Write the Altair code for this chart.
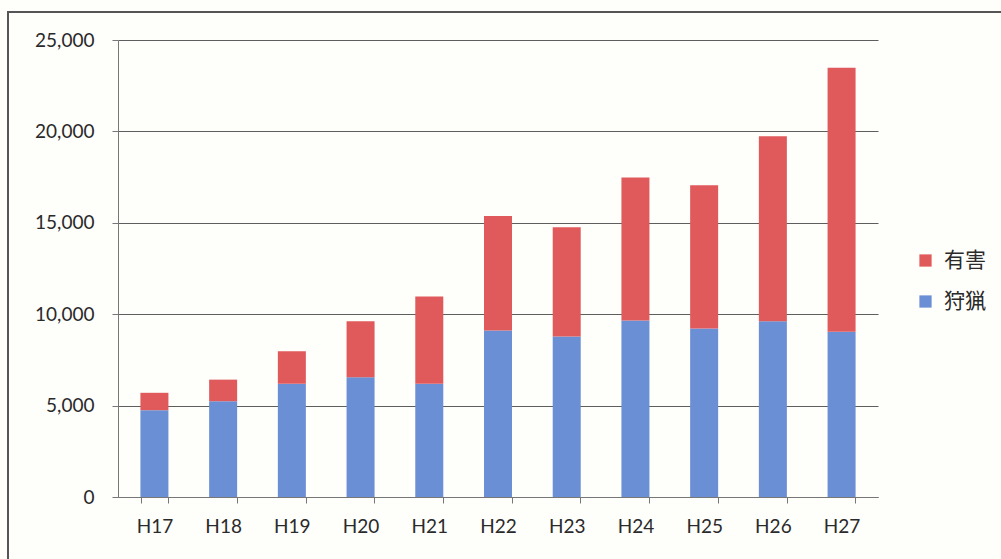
import altair as alt
import pandas as pd

# Fiscal years (Heisei era)
years = ["H17", "H18", "H19", "H20", "H21", "H22", "H23", "H24", "H25", "H26", "H27"]
# Hunting catch (狩猟)
hunting = [4750, 5240, 6190, 6550, 6190, 9110, 8780, 9660, 9220, 9620, 9040]
# Nuisance control catch (有害)
nuisance = [950, 1180, 1780, 3070, 4780, 6260, 5970, 7820, 7840, 10110, 14440]

series_names = ["有害", "狩猟"]
series_colors = ["#e05a5c", "#6a8fd4"]

rows = []
for y, h, n in zip(years, hunting, nuisance):
    rows.append({"year": y, "kind": "狩猟", "count": h, "stack": 0})
    rows.append({"year": y, "kind": "有害", "count": n, "stack": 1})
df = pd.DataFrame(rows)

label_font = "Lato"

bars = alt.Chart(df).mark_bar(size=28).encode(
    x=alt.X(
        "year:N",
        sort=years,
        title=None,
        scale=alt.Scale(paddingInner=0.6, paddingOuter=0.33),
        axis=alt.Axis(
            labelAngle=0,
            tickBand="extent",
            tickSize=6,
            tickColor="#777777",
            domainColor="#777777",
            labelFontSize=19,
            labelFont=label_font,
            labelColor="#2a2a2a",
            labelPadding=14,
        ),
    ),
    y=alt.Y(
        "count:Q",
        stack="zero",
        title=None,
        scale=alt.Scale(domain=[0, 25000], nice=False),
        axis=alt.Axis(
            values=[0, 5000, 10000, 15000, 20000, 25000],
            format=",.0f",
            tickSize=6,
            tickColor="#777777",
            domainColor="#777777",
            gridColor="#5e5e5e",
            gridWidth=1,
            labelFontSize=19,
            labelFont=label_font,
            labelColor="#2a2a2a",
            labelPadding=18,
        ),
    ),
    color=alt.Color(
        "kind:N",
        scale=alt.Scale(domain=series_names, range=series_colors),
        legend=alt.Legend(
            title=None,
            orient="none",
            legendX=797,
            legendY=210,
            symbolType="square",
            symbolSize=150,
            symbolStrokeWidth=0,
            labelFontSize=21,
            labelFont="Noto Sans CJK JP",
            labelColor="#2a2a2a",
            rowPadding=19,
            labelOffset=8,
        ),
    ),
    order=alt.Order("stack:Q"),
)

# Outer frame of the chart box
frame = alt.Chart(df).mark_rect(
    fill=None, stroke="#555555", strokeWidth=1.5, clip=False
).encode(
    x=alt.value(-110), x2=alt.value(1000), y=alt.value(-28), y2=alt.value(700)
)

chart = alt.layer(frame, bars).properties(
    width=760,
    height=457,
    autosize=alt.AutoSizeParams(type="none"),
    padding={"left": 118, "top": 40, "right": 123, "bottom": 62},
    background="#fefefb",
).configure_view(stroke=None)

chart.save("out.html", embed_options={"renderer": "svg", "actions": False})
